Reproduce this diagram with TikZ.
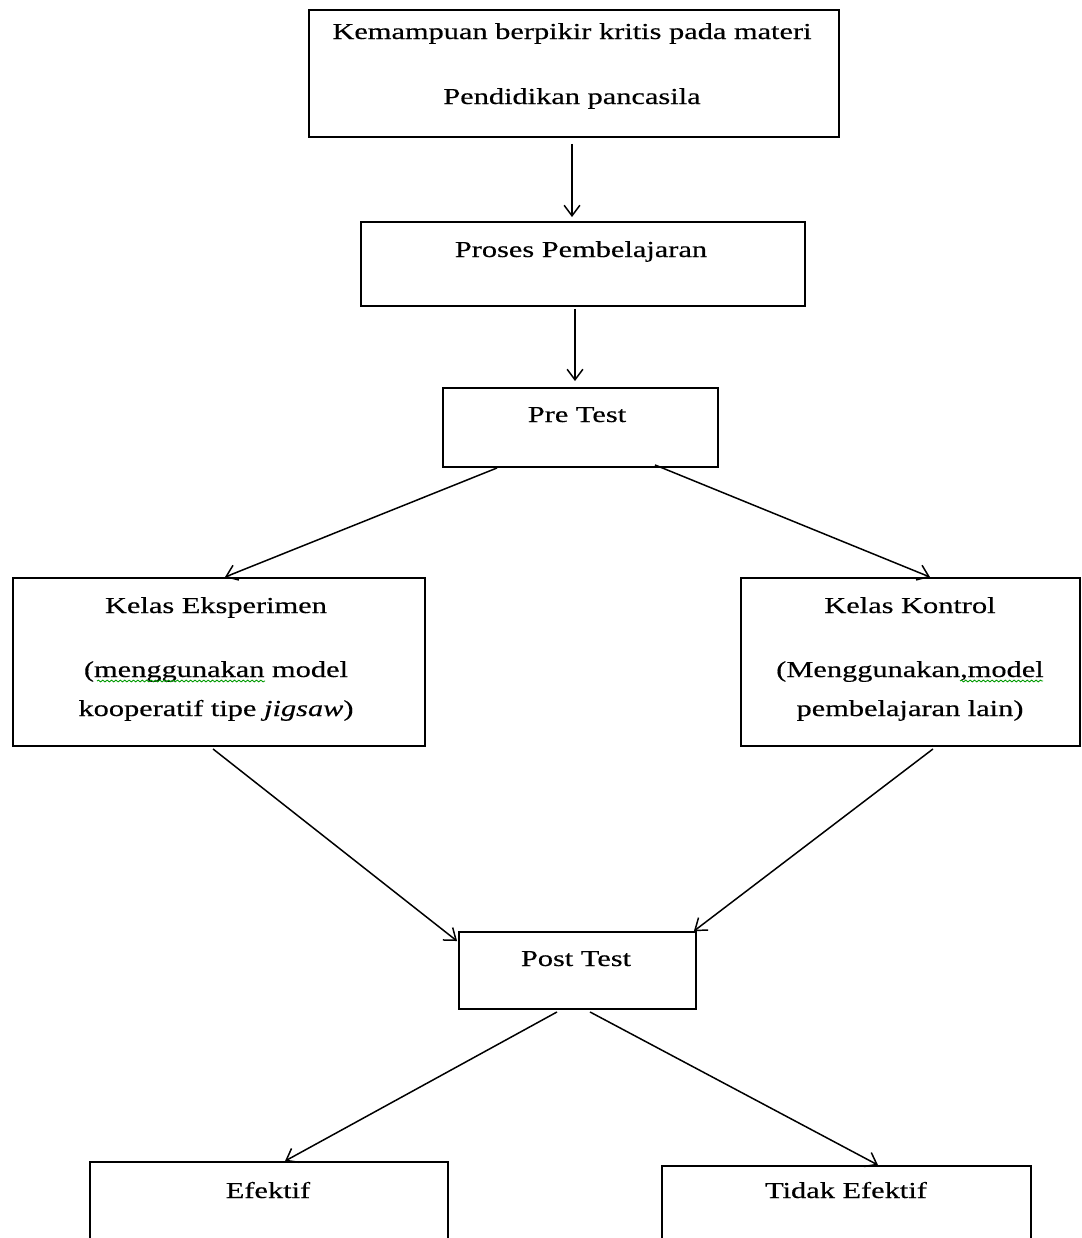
\documentclass[tikz,border=0pt]{standalone}
\usepackage{fontspec}
\setmainfont{Liberation Serif}[FakeStretch=1.33, FakeBold=0.4]
\usetikzlibrary{calc}
\usetikzlibrary{arrows.meta}
\usetikzlibrary{decorations.pathmorphing}

\begin{document}
\begin{tikzpicture}[x=0.02cm, y=-0.02cm,
	kotak/.style={draw, line width=1.1pt, inner sep=0pt},
	teks/.style={anchor=base, inner sep=0pt, font=\fontsize{13}{15}\selectfont},
	panah/.style={line width=0.85pt, -{Straight Barb[length=6pt, width=9pt]}},
	cek/.style={green!60!black, line width=0.5pt, decorate, decoration={snake, amplitude=0.5pt, segment length=2.5pt}}]
	\clip (0,0) rectangle (1082,1238);
	% Kotak %
	\node[kotak, minimum width=10.6cm, minimum height=2.54cm] (kemampuan) at (574,73.5) {};
	\node[kotak, minimum width=8.88cm, minimum height=1.68cm] (proses) at (583,264) {};
	\node[kotak, minimum width=5.5cm, minimum height=1.58cm] (pretest) at (580.5,427.5) {};
	\node[kotak, minimum width=8.24cm, minimum height=3.36cm] (eksperimen) at (219,662) {};
	\node[kotak, minimum width=6.78cm, minimum height=3.36cm] (kontrol) at (910.5,662) {};
	\node[kotak, minimum width=4.74cm, minimum height=1.54cm] (posttest) at (577.5,970.5) {};
	\node[kotak, minimum width=7.16cm, minimum height=2.76cm] (efektif) at (269,1231) {};
	\node[kotak, minimum width=7.38cm, minimum height=2.68cm] (tidak) at (846.5,1233) {};
	% Teks %
	\node[teks] (kemampuan1) at (572,39) {Kemampuan berpikir kritis pada materi};
	\node[teks] (kemampuan2) at (572,104) {Pendidikan pancasila};
	\node[teks] (proses1) at (581,257) {Proses Pembelajaran};
	\node[teks] (pretest1) at (577,422) {Pre Test};
	\node[teks] (eksperimen1) at (216,613) {Kelas Eksperimen};
	\node[teks] (eksperimen2) at (216,677) {(menggunakan model};
	\node[teks] (eksperimen3) at (216,716) {kooperatif tipe \textit{jigsaw})};
	\node[teks] (kontrol1) at (910,613) {Kelas Kontrol};
	\node[teks] (kontrol2) at (910,677) {(Menggunakan,model};
	\node[teks] (kontrol3) at (910,716) {pembelajaran lain)};
	\node[teks] (posttest1) at (576,966) {Post Test};
	\node[teks] (efektif1) at (268,1198) {Efektif};
	\node[teks] (tidak1) at (846,1198) {Tidak Efektif};
	% Ejaan %
	\draw[cek] (97,681) -- (265,681);
	\draw[cek] (960,681) -- (1043,681);
	% Panah %
	\draw[panah] ($(kemampuan.south)+(-2,6)$) -- ($(proses.north)+(-11,-4)$);
	\draw[panah] ($(proses.south)+(-8,2)$) -- ($(pretest.north)+(-5.5,-6)$);
	\draw[panah] ($(pretest.south)+(-83.5,0)$) -- ($(eksperimen.north)+(6,0)$);
	\draw[panah] ($(pretest.south)+(74.5,-3)$) -- ($(kontrol.north)+(19.5,0)$);
	\draw[panah] ($(eksperimen.south)+(-6,2)$) -- ($(posttest.north west)+(-1,10)$);
	\draw[panah] ($(kontrol.south)+(22.5,2)$) -- ($(posttest.north east)+(-3,0)$);
	\draw[panah] ($(posttest.south)+(-20.5,2)$) -- ($(efektif.north)+(16,0)$);
	\draw[panah] ($(posttest.south)+(12.5,2)$) -- ($(tidak.north)+(31.5,0)$);
\end{tikzpicture}
\end{document}
